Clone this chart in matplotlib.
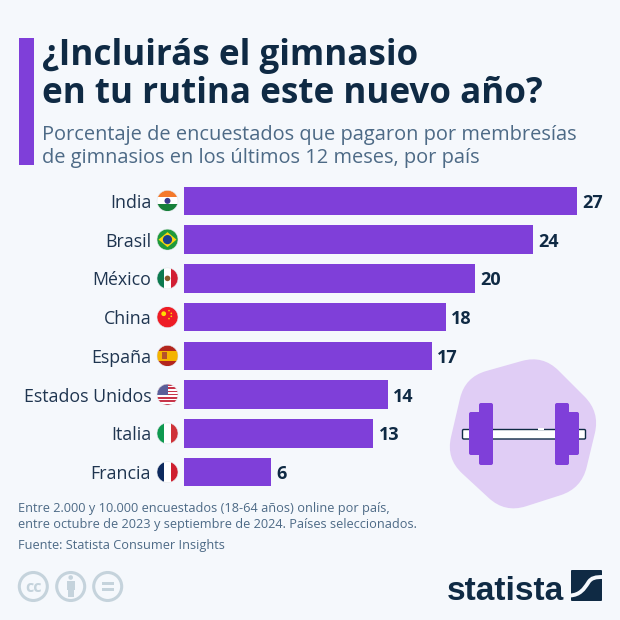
import numpy as np
import matplotlib
matplotlib.use("Agg")
import matplotlib.pyplot as plt
from matplotlib.patches import Rectangle, Circle, FancyBboxPatch, PathPatch, Polygon
from matplotlib.path import Path

countries = ["India", "Brasil", "México", "China", "España", "Estados Unidos", "Italia", "Francia"]
values = [27, 24, 20, 18, 17, 14, 13, 6]
title_lines = ["¿Incluirás el gimnasio", "en tu rutina este nuevo año?"]
subtitle_lines = ["Porcentaje de encuestados que pagaron por membresías",
                  "de gimnasios en los últimos 12 meses, por país"]
note_lines = ["Entre 2.000 y 10.000 encuestados (18-64 años) online por país,",
              "entre octubre de 2023 y septiembre de 2024. Países seleccionados."]
source_text = "Fuente: Statista Consumer Insights"

BG = "#f5f8fc"
PURPLE = "#7f3fd9"
NAVY = "#0f2a44"
LABEL = "#1f3550"
SUB = "#4d6a86"
FONT = "Open Sans"
plt.rcParams["font.family"] = [FONT, "DejaVu Sans"]

W, H = 620, 620
fig = plt.figure(figsize=(W / 100, H / 100), dpi=100, facecolor=BG)

# page overlay in pixel coordinates
pg = fig.add_axes([0, 0, 1, 1], zorder=1)
pg.set_xlim(0, W)
pg.set_ylim(H, 0)
pg.axis("off")

# bar axes: x 184..604 px, y 182..492 px
L, R, T, B = 184, 604, 181.5, 491.5
ax = fig.add_axes([L / W, 1 - B / H, (R - L) / W, (B - T) / H], zorder=2)
ax.patch.set_alpha(0)
ax.set_xlim(0, (R - L) / 14.56)
ax.set_ylim(len(values) - 0.5, -0.5)
ax.axis("off")
y = np.arange(len(values))
ax.barh(y, values, height=0.74, color=PURPLE, linewidth=0)
for yi, v in zip(y, values):
    ax.annotate(str(v), (v, yi), xytext=(3.8, 0), textcoords="offset points",
                va="center_baseline", ha="left", fontsize=13, fontweight="bold", color=NAVY)
for yi, c in zip(y, countries):
    ax.annotate(c, (0, yi), xytext=(-23.6, 0), textcoords="offset points",
                va="center_baseline", ha="right", fontsize=12.8, color=LABEL)

# header
pg.add_patch(Rectangle((19, 38), 15, 127, color=PURPLE, lw=0))
for t, yb in zip(title_lines, [65, 103]):
    pg.text(42, yb, t, fontsize=25.2, fontweight="bold", color=NAVY, va="baseline")
for t, yb in zip(subtitle_lines, [140, 163]):
    pg.text(42, yb, t, fontsize=14.45, color=SUB, va="baseline")

# notes
for t, yb in zip(note_lines, [512, 528]):
    pg.text(18, yb, t, fontsize=9.2, color=SUB, va="baseline")
pg.text(18, 549, source_text, fontsize=9.2, color=SUB, va="baseline")


def flag(cx, cy, draw, r=10.5):
    clip = Circle((cx, cy), r, transform=pg.transData)
    for p in draw(cx, cy, r):
        pg.add_patch(p)
        p.set_clip_path(clip)
    pg.add_patch(Circle((cx, cy), r, fc="none", ec="#e4e8ec", lw=0.4))


def hbands(cols):
    def d(cx, cy, r):
        n = len(cols)
        return [Rectangle((cx - r, cy - r + 2 * r * i / n), 2 * r, 2 * r / n, color=c, lw=0) for i, c in enumerate(cols)]
    return d


def vbands(cols):
    def d(cx, cy, r):
        n = len(cols)
        return [Rectangle((cx - r + 2 * r * i / n, cy - r), 2 * r / n, 2 * r, color=c, lw=0) for i, c in enumerate(cols)]
    return d


def india(cx, cy, r):
    return hbands(["#f4792b", "#ffffff", "#17803a"])(cx, cy, r) + [Circle((cx, cy), 3, color="#3a3a8c", lw=0)]


def brazil(cx, cy, r):
    return [Rectangle((cx - r, cy - r), 2 * r, 2 * r, color="#1f9a3c", lw=0),
            Polygon([(cx - 9, cy), (cx, cy - 7.5), (cx + 9, cy), (cx, cy + 7.5)], color="#fbd60e", lw=0),
            Circle((cx, cy), 4.6, color="#1d3f8f", lw=0)]


def mexico(cx, cy, r):
    return vbands(["#0c7a4f", "#ffffff", "#d21f34"])(cx, cy, r) + [Circle((cx, cy), 2.8, color="#8a5a2b", lw=0)]


def china(cx, cy, r):
    ps = [Rectangle((cx - r, cy - r), 2 * r, 2 * r, color="#ee1c25", lw=0),
          Circle((cx - 3.8, cy - 3.4), 2.4, color="#ffde00", lw=0)]
    for dx, dy in [(1.5, -6.5), (3.8, -3.8), (3.8, -0.8), (1.5, 1.5)]:
        ps.append(Circle((cx + dx, cy + dy), 0.8, color="#ffde00", lw=0))
    return ps


def spain(cx, cy, r):
    return [Rectangle((cx - r, cy - r), 2 * r, 2 * r, color="#b3261e", lw=0),
            Rectangle((cx - r, cy - r / 2), 2 * r, r, color="#f4b400", lw=0),
            Rectangle((cx - 6, cy - 3.5), 5.5, 7, color="#b5502a", lw=0)]


def usa(cx, cy, r):
    ps = []
    for i in range(7):
        ps.append(Rectangle((cx - r, cy - r + i * 2 * r / 6.5), 2 * r, r / 6.5, color="#c8354a", lw=0))
    ps.insert(0, Rectangle((cx - r, cy - r), 2 * r, 2 * r, color="#ffffff", lw=0))
    ps.append(Rectangle((cx - r, cy - r), r, r, color="#5b5f99", lw=0))
    return ps


draws = [india, brazil, mexico, china, spain, usa,
         vbands(["#0f9a50", "#ffffff", "#cf3238"]), vbands(["#0e2a5e", "#ffffff", "#cf1f30"])]
for yi, d in zip(y, draws):
    cy = T + (yi + 0.5) * (B - T) / len(values)
    flag(167.5, cy, d)

# rounded hexagon badge
corners = np.array([(543, 355), (600, 412), (581.5, 488.5), (505, 513), (446, 458.5), (465, 377)], float)
verts, codes = [], []
n = len(corners)
for i in range(n):
    p, c, nx = corners[i - 1], corners[i], corners[(i + 1) % n]
    a = c + (p - c) / np.linalg.norm(p - c) * 22
    b = c + (nx - c) / np.linalg.norm(nx - c) * 22
    verts += [a, c, b]
    codes += [Path.MOVETO if i == 0 else Path.LINETO, Path.CURVE3, Path.CURVE3]
verts.append(verts[0])
codes.append(Path.CLOSEPOLY)
pg.add_patch(PathPatch(Path(verts, codes), fc="#e0cdf5", ec="none"))

# dumbbell
pg.add_patch(FancyBboxPatch((462.5, 429.5), 123, 9.5, boxstyle="round,pad=0,rounding_size=1.2", fc="white", ec=NAVY, lw=1.0))
pg.add_patch(Rectangle((538, 428.4), 6, 2, color="white", lw=0))
for x0, w, y0, h in [(479, 14, 403, 62), (469, 12, 412, 43), (555, 14, 403, 62), (567, 12, 412, 43)]:
    pg.add_patch(FancyBboxPatch((x0, y0), w, h, boxstyle="round,pad=0,rounding_size=2", fc=PURPLE, ec="none"))

# licence icons
ICON = "#c5d3dc"
for cx in [33.3, 70.7, 107.7]:
    pg.add_patch(Circle((cx, 586.5), 14, fc="none", ec=ICON, lw=2.2))
pg.text(33.3, 586.5, "cc", fontsize=11.5, fontweight="bold", color=ICON, ha="center", va="center_baseline")
pg.add_patch(Circle((70.7, 577.5), 2.3, color=ICON, lw=0))
pg.add_patch(Rectangle((66.7, 581), 8, 9, color=ICON, lw=0))
pg.add_patch(Rectangle((67.7, 589), 6, 7.5, color=ICON, lw=0))
pg.add_patch(Rectangle((102, 582), 12, 2.6, color=ICON, lw=0))
pg.add_patch(Rectangle((102, 588), 12, 2.6, color=ICON, lw=0))

# logo
pg.text(446.5, 600, "statista", fontsize=24, fontweight="bold", color=NAVY, va="baseline",
        family=["Liberation Sans", "DejaVu Sans"])
box = FancyBboxPatch((571, 570), 31, 31, boxstyle="round,pad=0,rounding_size=1", fc=NAVY, ec="none")
pg.add_patch(box)
sw = Path([(570, 595.5), (580, 595), (584, 589), (588, 583), (591, 577.5), (596, 577), (603, 577)],
          [Path.MOVETO, Path.CURVE4, Path.CURVE4, Path.CURVE4, Path.CURVE4, Path.CURVE4, Path.CURVE4])
swp = PathPatch(sw, fc="none", ec=BG, lw=2.8)
pg.add_patch(swp)
swp.set_clip_path(box)

fig.savefig("out.png", dpi=100, facecolor=BG)
